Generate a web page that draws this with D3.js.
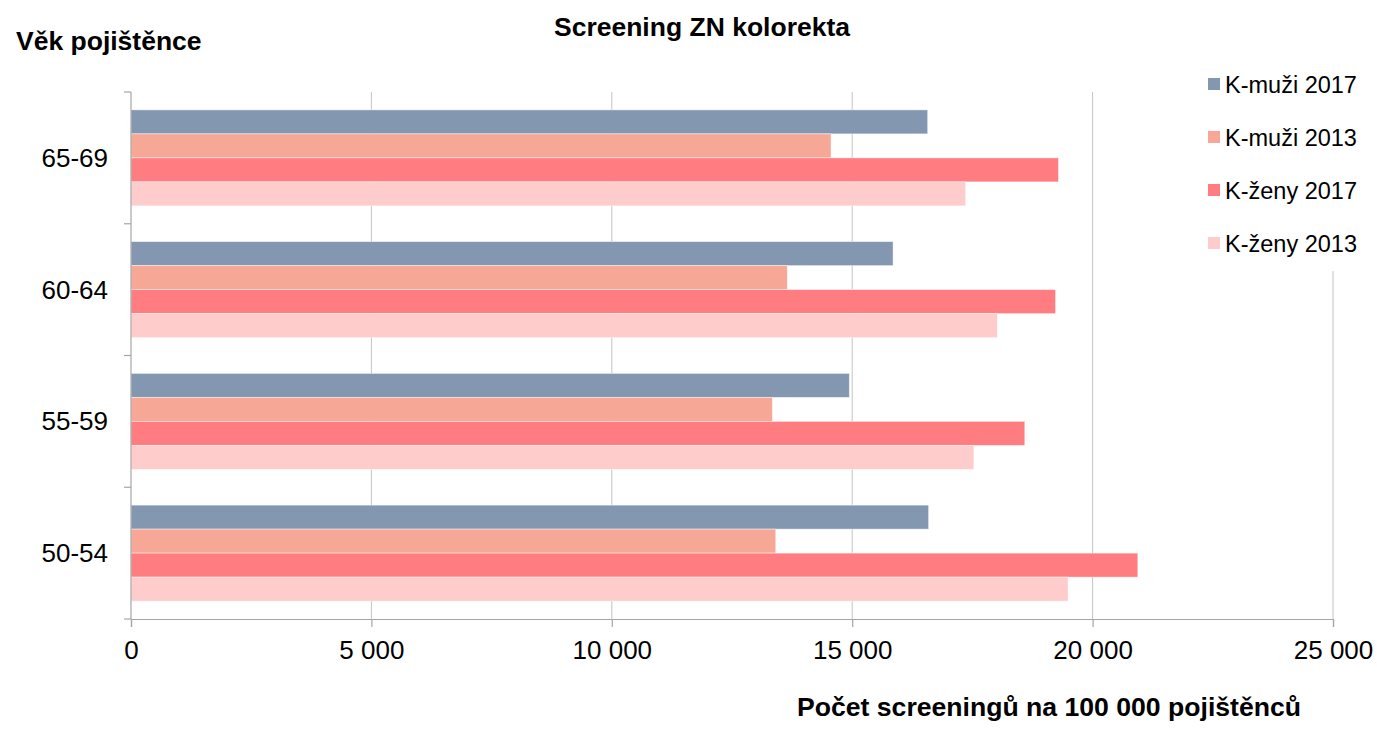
<!DOCTYPE html>
<html>
<head>
<meta charset="utf-8">
<script src="https://cdn.jsdelivr.net/npm/d3@7"></script>
<style>
  body { margin: 0; background: #fff; }
  text { font-family: "Liberation Sans", Arial, sans-serif; fill: #000; }
</style>
</head>
<body>
<div id="chart-area"></div>
<script>

// data
var ageGroups = ["65-69", "60-64", "55-59", "50-54"];
var seriesNames = ["K-muži 2017", "K-muži 2013", "K-ženy 2017", "K-ženy 2013"];
var muzi2017 = [16570, 15850, 14940, 16590];
var muzi2013 = [14560, 13650, 13340, 13410];
var zeny2017 = [19290, 19230, 18590, 20940];
var zeny2013 = [17360, 18020, 17530, 19490];
var xTicks = [0, 5000, 10000, 15000, 20000, 25000];
var colors = ["#8497B0", "#F6A796", "#FF7C80", "#FFCCCC"];

var seriesValues = [muzi2017, muzi2013, zeny2017, zeny2013];

var W = 1377, H = 729;
var margin = {top: 92, right: 44, bottom: 110, left: 131};
var width = W - margin.left - margin.right,
    height = H - margin.top - margin.bottom;

var svg = d3.select("#chart-area")
    .append("svg")
        .attr("width", W)
        .attr("height", H);

var g = svg.append("g")
        .attr("transform", "translate(" + margin.left + "," + margin.top + ")");

var xScale = d3.scaleLinear().domain([0, 25000]).range([0, width]);
var yScale = d3.scaleBand().domain(ageGroups).range([0, height])
        .paddingInner(0.2714).paddingOuter(0.1357);
var subScale = d3.scaleBand().domain(seriesNames).range([0, yScale.bandwidth()]);

// gridlines
g.selectAll("line.grid")
    .data(xTicks.slice(1))
    .enter()
    .append("line")
    .attr("class", "grid")
    .attr("x1", function(d){ return xScale(d); })
    .attr("x2", function(d){ return xScale(d); })
    .attr("y1", 0)
    .attr("y2", height)
    .attr("stroke", "#C4C4C4")
    .attr("stroke-width", 1);

// bars
var rows = [];
ageGroups.forEach(function(a, i){
    seriesNames.forEach(function(s, j){
        rows.push({age: a, series: s, value: seriesValues[j][i], color: colors[j]});
    });
});

g.selectAll("rect.bar")
    .data(rows)
    .enter()
    .append("rect")
    .attr("class", "bar")
    .attr("x", 0)
    .attr("y", function(d){ return yScale(d.age) + subScale(d.series); })
    .attr("width", function(d){ return xScale(d.value); })
    .attr("height", subScale.bandwidth())
    .attr("fill", function(d){ return d.color; })
    .attr("stroke", "rgba(255,255,255,0.55)")
    .attr("stroke-width", 0.8);

// x axis
var xAxis = d3.axisBottom(xScale)
    .tickValues(xTicks)
    .tickSize(8)
    .tickPadding(14)
    .tickFormat(function(d){ return d3.format(",")(d).replace(/,/g, " "); });

var xAxisEl = g.append("g")
        .attr("transform", "translate(0," + height + ")")
        .call(xAxis);
xAxisEl.select(".domain").attr("stroke", "#A6A6A6").attr("stroke-width", 1.2);
xAxisEl.selectAll(".tick line").attr("stroke", "#A6A6A6").attr("stroke-width", 1.2);
xAxisEl.selectAll(".tick text")
    .attr("font-size", "26px")
    .attr("font-family", "Liberation Sans, Arial, sans-serif")
    .attr("fill", "#000");

// y axis (ticks on band boundaries)
var yAxisEl = g.append("g");
yAxisEl.append("line")
    .attr("x1", 0).attr("x2", 0).attr("y1", 0).attr("y2", height)
    .attr("stroke", "#A6A6A6").attr("stroke-width", 1.2);
var bounds = ageGroups.map(function(a){ return yScale(a) - yScale.step() * yScale.paddingInner() / 2; });
bounds.push(height);
yAxisEl.selectAll("line.ytick")
    .data(bounds)
    .enter()
    .append("line")
    .attr("class", "ytick")
    .attr("x1", -7).attr("x2", 0)
    .attr("y1", function(d){ return d; })
    .attr("y2", function(d){ return d; })
    .attr("stroke", "#A6A6A6").attr("stroke-width", 1.2);
yAxisEl.selectAll("text.ylab")
    .data(ageGroups)
    .enter()
    .append("text")
    .attr("class", "ylab")
    .attr("x", -23)
    .attr("y", function(d){ return yScale(d) + yScale.bandwidth() / 2 + 9; })
    .attr("text-anchor", "end")
    .attr("font-size", "26px")
    .text(function(d){ return d; });

// legend (white box covers the gridline)
var legend = svg.append("g");
legend.append("rect")
    .attr("x", 1196).attr("y", 60).attr("width", 181).attr("height", 211)
    .attr("fill", "#fff");
var legItems = legend.selectAll("g.leg")
    .data(seriesNames)
    .enter()
    .append("g")
    .attr("class", "leg")
    .attr("transform", function(d, i){ return "translate(1208," + (84 + i * 53) + ")"; });
legItems.append("rect")
    .attr("x", 0).attr("y", -6).attr("width", 12).attr("height", 12)
    .attr("fill", function(d, i){ return colors[i]; });
legItems.append("text")
    .attr("x", 17).attr("y", 8.5)
    .attr("font-size", "23.5px")
    .text(function(d){ return d; });

// titles
svg.append("text")
    .attr("x", 702).attr("y", 36)
    .attr("text-anchor", "middle")
    .attr("font-size", "26.5px").attr("font-weight", "bold")
    .text("Screening ZN kolorekta");

svg.append("text")
    .attr("x", 16).attr("y", 50)
    .attr("font-size", "26.5px").attr("font-weight", "bold")
    .text("Věk pojištěnce");

svg.append("text")
    .attr("x", 797).attr("y", 716)
    .attr("font-size", "26.6px").attr("font-weight", "bold")
    .text("Počet screeningů na 100 000 pojištěnců");

</script>
</body>
</html>
